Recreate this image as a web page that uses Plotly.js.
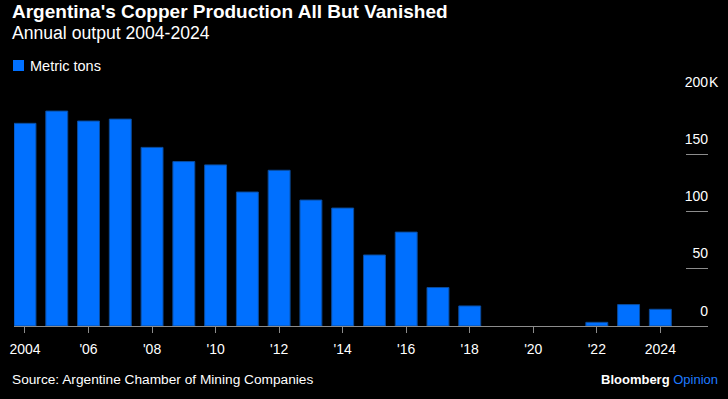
<!DOCTYPE html>
<html>
<head>
<meta charset="utf-8">
<script src="https://cdn.plot.ly/plotly-3.0.1.min.js"></script>
<style>
html,body{margin:0;padding:0;background:#000;}
#chart{width:728px;height:399px;}
</style>
</head>
<body>
<div id="chart"></div>
<script>
// Data (thousand metric tons)
const years = [2004,2005,2006,2007,2008,2009,2010,2011,2012,2013,2014,2015,2016,2017,2018,2019,2020,2021,2022,2023,2024];
const outputKt = [177,187.7,179,180.7,156,143.6,140.7,117,136,110,103,62,82,33.6,17.5,0,0,0,3.2,18.7,14.6];
const xTickVals = [2004,2006,2008,2010,2012,2014,2016,2018,2020,2022,2024];
const xTickText = ["2004","'06","'08","'10","'12","'14","'16","'18","'20","'22","2024"];
const yTickVals = [0,50,100,150,200];
const yTickText = ["0","50","100","150","200"];
const yUnitSuffix = "K";
const seriesName = "Metric tons";

const W = 728, H = 399;
const M = {l:14, r:20, t:97, b:73};
const pw = W - M.l - M.r, ph = H - M.t - M.b;
const px = v => (v - M.l) / pw;
const py = v => (H - M.b - v) / ph;

const blue = "#0070ff";
const grey = "#8c8c8c";
const font = "Arial, 'Liberation Sans', sans-serif";

const trace = {
  type: "bar",
  x: years,
  y: outputKt,
  name: seriesName,
  marker: {color: blue, line: {color: "#0a4c9e", width: outputKt.map(v => v > 0 ? 1 : 0)}},
  hoverinfo: "x+y",
  showlegend: false
};

const layout = {
  width: W, height: H,
  paper_bgcolor: "#000", plot_bgcolor: "#000",
  margin: M,
  bargap: 0.31,
  font: {family: font, color: "#fff", size: 14},
  xaxis: {
    range: [2003.654, 2025.5],
    tickmode: "array", tickvals: xTickVals, ticktext: xTickText,
    ticks: "outside", ticklen: 6, tickcolor: grey, tickwidth: 1,
    showline: true, linecolor: grey, linewidth: 1,
    showgrid: false, zeroline: false,
    ticklabelstandoff: 4,
    tickfont: {family: font, size: 14, color: "#fff"}
  },
  yaxis: {
    range: [0, 200], side: "right",
    tickmode: "array", tickvals: yTickVals, ticktext: yTickText,
    ticks: "inside", ticklen: 22, tickcolor: grey, tickwidth: 1,
    ticklabelposition: "inside top", ticklabeloverflow: "allow",
    ticklabelshift: -5, ticklabelstandoff: -3,
    showline: false, showgrid: false, zeroline: false,
    tickfont: {family: font, size: 14, color: "#fff"}
  },
  shapes: [
    {type: "rect", xref: "paper", yref: "paper", x0: px(13), x1: px(24), y0: py(71), y1: py(60), fillcolor: blue, line: {width: 0}}
  ],
  annotations: [
    {xref: "paper", yref: "paper", x: px(10), y: py(11), xanchor: "left", yanchor: "middle", showarrow: false,
     text: "<b>Argentina's Copper Production All But Vanished</b>", font: {family: font, size: 19, color: "#fff"}},
    {xref: "paper", yref: "paper", x: px(10), y: py(33.5), xanchor: "left", yanchor: "middle", showarrow: false,
     text: "Annual output 2004-2024", font: {family: font, size: 17.6, color: "#fff"}},
    {xref: "paper", yref: "paper", x: px(28), y: py(66), xanchor: "left", yanchor: "middle", showarrow: false,
     text: seriesName, font: {family: font, size: 14.5, color: "#fff"}},
    {xref: "paper", yref: "paper", x: px(10), y: py(379), xanchor: "left", yanchor: "middle", showarrow: false,
     text: "Source: Argentine Chamber of Mining Companies", font: {family: font, size: 13.7, color: "#fff"}},
    {xref: "paper", yref: "paper", x: px(720), y: py(379), xanchor: "right", yanchor: "middle", showarrow: false,
     text: "<b>Bloomberg</b> <span style='color:#1f7bff'>Opinion</span>", font: {family: font, size: 13, color: "#fff"}},
    {xref: "paper", yref: "paper", x: px(707), y: py(82.5), xanchor: "left", yanchor: "middle", showarrow: false,
     text: yUnitSuffix, font: {family: font, size: 14, color: "#fff"}}
  ]
};

Plotly.newPlot("chart", [trace], layout, {displayModeBar: false, staticPlot: true});
</script>
</body>
</html>
